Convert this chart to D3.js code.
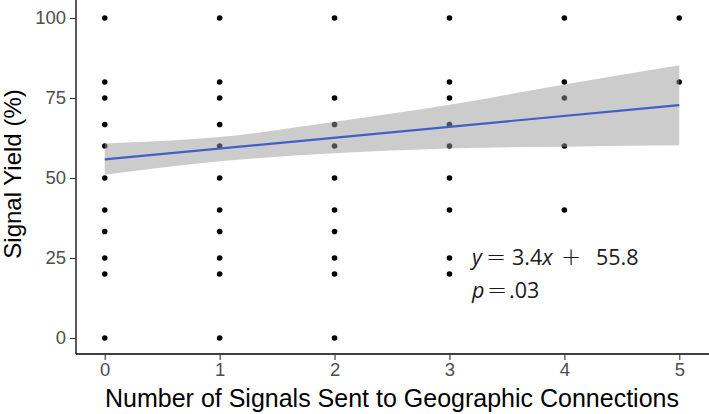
<!DOCTYPE html>
<html>
<head>
<meta charset="utf-8">
<script src="https://cdn.jsdelivr.net/npm/d3@7"></script>
<style>
  body { margin: 0; background: #fff; }
  svg { display: block; }
</style>
</head>
<body>
<div class="canvas"></div>
<script>
// observed points, one array of yields per signal count
const signalCounts = [0, 1, 2, 3, 4, 5];
const yieldsAt0 = [100, 80, 75, 66.7, 60, 50, 40, 33.3, 25, 20, 0];
const yieldsAt1 = [100, 80, 75, 66.7, 60, 50, 40, 33.3, 25, 20, 0];
const yieldsAt2 = [100, 75, 66.7, 60, 50, 40, 33.3, 25, 20, 0];
const yieldsAt3 = [100, 80, 75, 66.7, 60, 50, 40, 25, 20];
const yieldsAt4 = [100, 80, 75, 60, 40];
const yieldsAt5 = [100, 80];

// fitted line and confidence band
const fitX = [0, 5];
const fitY = [55.8, 72.8];
const bandLower = [51.0, 55.2, 57.7, 59.2, 59.8, 60.2];
const bandUpper = [60.8, 62.8, 67.6, 72.9, 79.2, 85.2];

const xTicks = [0, 1, 2, 3, 4, 5];
const yTicks = [0, 25, 50, 75, 100];

const dims = { width: 709, height: 414 };
const panel = { left: 76, right: 708, top: 2, bottom: 354 };

const svg = d3.select('.canvas')
    .append('svg')
    .attr('width', dims.width)
    .attr('height', dims.height);

const x = d3.scaleLinear().domain([-0.25, 5.25]).range([panel.left, panel.right]);
const y = d3.scaleLinear().domain([-5, 105]).range([panel.bottom, panel.top]);

const allYields = [yieldsAt0, yieldsAt1, yieldsAt2, yieldsAt3, yieldsAt4, yieldsAt5];
const points = [];
allYields.forEach((arr, i) => arr.forEach(v => points.push({ x: signalCounts[i], y: v })));

// points first, band drawn over them like ggplot
svg.append('g')
    .selectAll('circle')
    .data(points)
    .enter()
    .append('circle')
        .attr('cx', d => x(d.x))
        .attr('cy', d => y(d.y))
        .attr('r', 2.8)
        .attr('fill', '#000');

const band = d3.area()
    .x((d, i) => x(signalCounts[i]))
    .y0((d, i) => y(bandLower[i]))
    .y1((d, i) => y(bandUpper[i]))
    .curve(d3.curveMonotoneX);

svg.append('path')
    .datum(signalCounts)
    .attr('d', band)
    .attr('fill', '#999999')
    .attr('fill-opacity', 0.5);

svg.append('line')
    .attr('x1', x(fitX[0])).attr('y1', y(fitY[0]))
    .attr('x2', x(fitX[1])).attr('y2', y(fitY[1]))
    .attr('stroke', '#3f5fc6')
    .attr('stroke-width', 2.2);

// axes
const xAxis = d3.axisBottom(x).tickValues(xTicks).tickFormat(d3.format('d'))
    .tickSize(6).tickPadding(3).tickSizeOuter(0);
const yAxis = d3.axisLeft(y).tickValues(yTicks).tickFormat(d3.format('d'))
    .tickSize(6).tickPadding(4).tickSizeOuter(0);

const gx = svg.append('g')
    .attr('transform', `translate(0, ${panel.bottom})`)
    .call(xAxis);
const gy = svg.append('g')
    .attr('transform', `translate(${panel.left}, 0)`)
    .call(yAxis);

gx.select('.domain').attr('d', `M${panel.left},0H${dims.width}`);
gy.select('.domain').attr('d', `M0,${panel.top - 2}V${panel.bottom}`);

[gx, gy].forEach(g => {
    g.select('.domain').attr('stroke', '#000').attr('stroke-width', 1.3);
    g.selectAll('.tick line').attr('stroke', '#333').attr('stroke-width', 1.1);
    g.selectAll('.tick text')
        .attr('fill', '#4d4d4d')
        .style('font-family', '"Liberation Sans", Arial, sans-serif')
        .style('font-size', '18.5px');
});

// axis titles
svg.append('text')
    .attr('x', (panel.left + panel.right) / 2)
    .attr('y', 407)
    .attr('text-anchor', 'middle')
    .style('font-family', '"Liberation Sans", Arial, sans-serif')
    .style('font-size', '25px')
    .text('Number of Signals Sent to Geographic Connections');

svg.append('text')
    .attr('transform', `translate(21, ${(panel.top + panel.bottom) / 2 - 4}) rotate(-90)`)
    .attr('text-anchor', 'middle')
    .style('font-family', '"Liberation Sans", Arial, sans-serif')
    .style('font-size', '24px')
    .text('Signal Yield (%)');

// equation annotation, pieces placed like math typesetting
const note = svg.append('g')
    .style('font-family', '"Open Sans", sans-serif')
    .style('font-size', '21.5px')
    .attr('fill', '#1a1a1a');

const op = sel => sel
    .style('font-family', '"DejaVu Sans", sans-serif')
    .style('font-size', '24px')
    .style('font-weight', 300);

const line1 = note.append('text').attr('y', 265);
line1.append('tspan').attr('x', 472).style('font-style', 'italic').text('y');
line1.append('tspan').attr('x', 486).call(op).text('=');
line1.append('tspan').attr('x', 512).text('3.4');
line1.append('tspan').style('font-style', 'italic').text('x');
line1.append('tspan').attr('x', 561).call(op).text('+');
line1.append('tspan').attr('x', 596).text('55.8');

const line2 = note.append('text').attr('y', 298);
line2.append('tspan').attr('x', 472).style('font-style', 'italic').text('p');
line2.append('tspan').attr('x', 487).call(op).text('=');
line2.append('tspan').attr('x', 509).text('.03');
</script>
</body>
</html>
